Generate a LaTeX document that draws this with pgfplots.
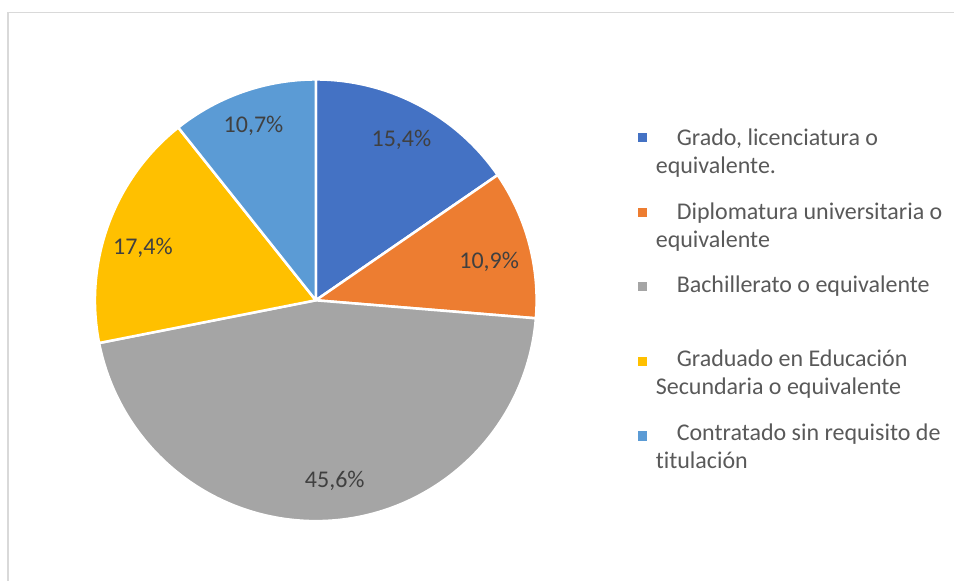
\documentclass[border=0pt]{standalone}
\usepackage{pgfplots}
\pgfplotsset{compat=1.18}
\usepackage{pgfplotstable}
\usepackage{fontspec}
\setmainfont{Carlito}[Ligatures=NoCommon]

\definecolor{c1}{HTML}{4472C4}
\definecolor{c2}{HTML}{ED7D31}
\definecolor{c3}{HTML}{A5A5A5}
\definecolor{c4}{HTML}{FFC000}
\definecolor{c5}{HTML}{5B9BD5}
\definecolor{lbl}{HTML}{404040}
\definecolor{leg}{HTML}{595959}
\definecolor{frame}{HTML}{D9D9D9}

% share in %, colour, label position (px, origin bottom left)
\pgfplotstableread{
pct col lx ly
15.4 c1 401.7 441
10.9 c2 489.5 319
45.6 c3 335 100
17.4 c4 143 333
10.7 c5 253.7 455
}\piedata

\begin{document}
\begin{tikzpicture}
\begin{axis}[
    hide axis,
    x=0.75pt, y=0.75pt,
    xmin=0, xmax=955, ymin=0, ymax=581,
    clip=false,
]
\path (axis cs:0,0) rectangle (axis cs:955,581);
\draw[frame, line width=1pt] (axis cs:8,0) -- (axis cs:8,568.5) -- (axis cs:955,568.5);

% slices, clockwise from 12 o'clock
\def\acc{90}
\pgfplotsforeachungrouped \i in {0,...,4}{%
    \pgfplotstablegetelem{\i}{pct}\of\piedata \let\p\pgfplotsretval
    \pgfplotstablegetelem{\i}{col}\of\piedata \let\c\pgfplotsretval
    \pgfplotstablegetelem{\i}{lx}\of\piedata \let\lx\pgfplotsretval
    \pgfplotstablegetelem{\i}{ly}\of\piedata \let\ly\pgfplotsretval
    \pgfmathsetmacro\b{\acc-3.6*\p}
    \pgfmathsetmacro\sx{316+221*cos(\acc)}
    \pgfmathsetmacro\sy{280.5+221*sin(\acc)}
    \edef\cmd{\noexpand\filldraw[fill=\c, draw=white, line width=1.9pt, line join=round]
        (axis cs:316,280.5) -- (axis cs:\sx,\sy)
        arc[start angle=\acc, end angle=\b, radius=221] -- cycle;
        \noexpand\node[lbl, font=\noexpand\fontsize{18}{21}\noexpand\selectfont, inner sep=0pt]
        at (axis cs:\lx,\ly) {\noexpand\pgfmathprintnumber[assume math mode=true, use comma, fixed, fixed zerofill, precision=1]{\p}\noexpand\%};}
    \cmd
    \let\acc\b
}

% legend
\fill[c1] (axis cs:638.5,439) rectangle (axis cs:647.5,448);
\fill[c2] (axis cs:638.5,363.7) rectangle (axis cs:647.5,373.3);
\fill[c3] (axis cs:638.5,289.3) rectangle (axis cs:647.5,298.3);
\fill[c4] (axis cs:638.5,214.3) rectangle (axis cs:647.5,223.3);
\fill[c5] (axis cs:638.5,140) rectangle (axis cs:647.5,149.3);
\begin{scope}[every node/.style={leg, anchor=base west, inner sep=0pt, font=\fontsize{18}{21}\selectfont}]
\node at (axis cs:677,435) {Grado, licenciatura o};
\node at (axis cs:656,407) {equivalente.};
\node at (axis cs:677,361) {Diplomatura universitaria o};
\node at (axis cs:656,333) {equivalente};
\node at (axis cs:677,288) {Bachillerato o equivalente};
\node at (axis cs:677,214) {Graduado en Educación};
\node at (axis cs:656,186) {Secundaria o equivalente};
\node at (axis cs:677,140) {Contratado sin requisito de};
\node at (axis cs:656,112) {titulación};
\end{scope}
\end{axis}
\end{tikzpicture}
\end{document}
